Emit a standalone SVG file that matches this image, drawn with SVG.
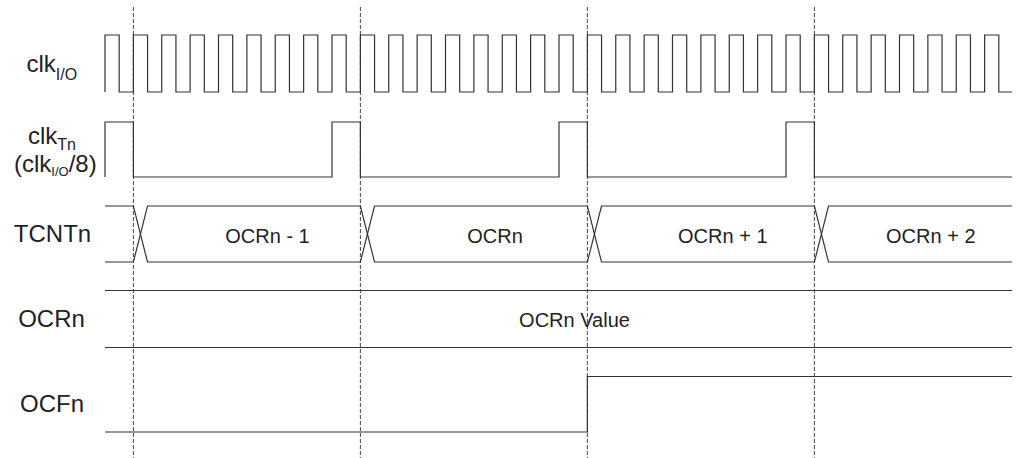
<svg xmlns="http://www.w3.org/2000/svg" width="1020" height="458" viewBox="0 0 1020 458">
<style>
.sig{fill:none;stroke:#333;stroke-width:1.2}
.grid{fill:none;stroke:#444;stroke-width:1;stroke-dasharray:4,2}
.lbl{font-family:"Liberation Sans",Arial,sans-serif;font-size:24px;fill:#222}
.val{font-family:"Liberation Sans",Arial,sans-serif;font-size:20px;fill:#222;text-anchor:middle}
</style>
<rect width="1020" height="458" fill="#fff"/>
<g id="gridlines">
<path class="grid" d="M133.38,7V458M360.38,7V458M587.38,7V458M814.38,7V458"/>
</g>
<g id="clkio">
<text class="lbl" x="26.5" y="72">clk<tspan font-size="16" dy="8">I/O</tspan></text>
<path class="sig" d="M105,92V35H119.19V92H133.38V35H147.56V92H161.75V35H175.94V92H190.13V35H204.31V92H218.5V35H232.69V92H246.88V35H261.06V92H275.25V35H289.44V92H303.63V35H317.81V92H332V35H346.19V92H360.38V35H374.56V92H388.75V35H402.94V92H417.13V35H431.31V92H445.5V35H459.69V92H473.88V35H488.06V92H502.25V35H516.44V92H530.63V35H544.81V92H559V35H573.19V92H587.38V35H601.56V92H615.75V35H629.94V92H644.13V35H658.31V92H672.5V35H686.69V92H700.88V35H715.06V92H729.25V35H743.44V92H757.63V35H771.81V92H786V35H800.19V92H814.38V35H828.56V92H842.75V35H856.94V92H871.13V35H885.31V92H899.5V35H913.69V92H927.88V35H942.06V92H956.25V35H970.44V92H984.63V35H998.81V92H1012"/>
</g>
<g id="clktn">
<text class="lbl" x="28" y="144">clk<tspan font-size="16" dy="6">Tn</tspan></text>
<text class="lbl" x="14" y="172" font-size="20">(clk<tspan font-size="13" dy="4">I/O</tspan><tspan dy="-4">/8)</tspan></text>
<path class="sig" d="M105,177V122H133.38V177H332V122H360.38V177H559V122H587.38V177H786V122H814.38V177H1012"/>
</g>
<g id="tcntn">
<text class="lbl" x="52.5" y="242" text-anchor="middle">TCNTn</text>
<path class="sig" d="M105,206H133.38L147.5,262H360.38L374.5,206H587.38L601.5,262H814.38L828.5,206H1012"/>
<path class="sig" d="M105,262H133.38L147.5,206H360.38L374.5,262H587.38L601.5,206H814.38L828.5,262H1012"/>
<text class="val" x="267.5" y="242.5">OCRn - 1</text>
<text class="val" x="495" y="242.5">OCRn</text>
<text class="val" x="722.8" y="242.5">OCRn + 1</text>
<text class="val" x="930.8" y="242.5">OCRn + 2</text>
</g>
<g id="ocrn">
<text class="lbl" x="51.5" y="327" text-anchor="middle">OCRn</text>
<path class="sig" d="M105,290.5H1012M105,347.5H1012"/>
<text class="val" x="574.5" y="327">OCRn Value</text>
</g>
<g id="ocfn">
<text class="lbl" x="52" y="412" text-anchor="middle">OCFn</text>
<path class="sig" d="M105,432H587.38V376.5H1012"/>
</g>
</svg>
